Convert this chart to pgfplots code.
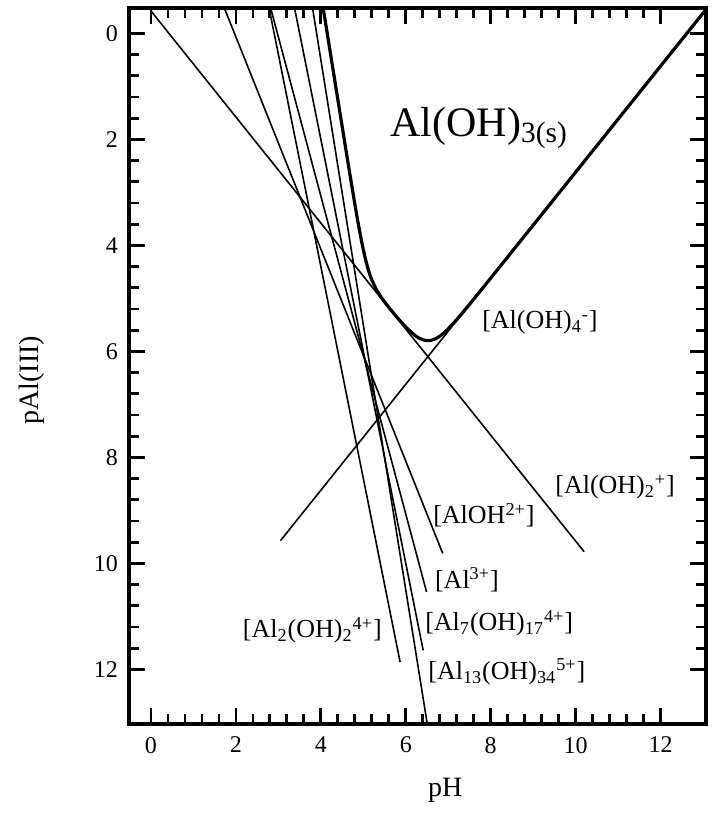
\documentclass[border=0pt]{standalone}
\usepackage{fontspec}
\setmainfont{Liberation Serif}
\usepackage{pgfplots}
\pgfplotsset{compat=1.18}
\newcommand{\ion}[2]{\textsubscript{#1}\textsuperscript{#2}}
\begin{document}
\begin{tikzpicture}
\begin{axis}[
  scale only axis, width=288.5pt, height=358pt,
  xmin=-0.518, xmax=13.07, ymin=-0.477, ymax=13.03, y dir=reverse,
  xtick={0,2,...,12}, ytick={0,2,...,12}, minor tick num=4,
  tick align=inside,
  major tick length=8pt, minor tick length=5pt,
  every tick/.style={line width=1.4pt, black},
  axis line style={line width=2pt},
  tick label style={font=\fontsize{12}{14}\selectfont},
  xticklabel style={yshift=-3pt},
  yticklabel style={xshift=-2pt},
  /pgf/number format/assume math mode=true,
  xlabel={pH}, ylabel={pAl(III)},
  label style={font=\fontsize{14}{16}\selectfont},
  xlabel style={at={(axis description cs:0.548,-0.092)}, anchor=center},
  ylabel style={at={(axis description cs:-0.168,0.48)}, anchor=center},
  clip=true,
]
% [Al(OH)2+]
\addplot[line width=0.8pt] coordinates {(0,-0.42) (10.2,9.78)};
% [Al(OH)4-]
\addplot[line width=0.8pt] coordinates {(3.05,9.57) (13.12,-0.5)};
% [AlOH2+]
\addplot[line width=0.8pt] coordinates {(1.715,-0.5) (6.87,9.81)};
% [Al3+]
\addplot[line width=0.8pt] coordinates {(2.81,-0.5) (6.49,10.54)};
% [Al2(OH)2 4+]
\addplot[line width=0.8pt] coordinates {(2.775,-0.5) (5.866,11.86)};
% [Al7(OH)17 4+]
\addplot[line width=0.8pt] coordinates {(3.375,-0.5) (6.41,11.64)};
% [Al13(OH)34 5+]
\addplot[line width=0.8pt] coordinates {(3.8,-0.5) (6.62,13.6)};
% total solubility
\addplot[line width=1.6pt, line join=round] coordinates {
(4.05,-0.5) (4.1,-0.25) (4.2,0.25) (4.3,0.75) (4.4,1.249) (4.5,1.748)
(4.6,2.245) (4.7,2.737) (4.8,3.219) (4.85,3.452) (4.9,3.676) (4.95,3.888)
(5.0,4.083) (5.05,4.259) (5.1,4.412) (5.15,4.543) (5.2,4.653) (5.3,4.825)
(5.4,4.955) (5.5,5.067) (5.6,5.170) (5.8,5.364) (6.0,5.542) (6.2,5.690)
(6.3,5.745) (6.4,5.782) (6.5,5.798) (6.6,5.792) (6.7,5.763) (6.8,5.714)
(6.9,5.651) (7.0,5.575) (7.2,5.402) (7.5,5.115) (8,4.619) (9,3.62)
(10,2.62) (11,1.62) (12,0.62) (13.1,-0.48)};
\node[font=\fontsize{21}{24}\selectfont] at (axis cs:7.73,1.79) {Al(OH)\textsubscript{3(s)}};
\node[font=\fontsize{13}{15}\selectfont] at (axis cs:9.16,5.46) {[Al(OH)\ion{4}{-}]};
\node[font=\fontsize{13}{15}\selectfont] at (axis cs:10.93,8.56) {[Al(OH)\ion{2}{+}]};
\node[font=\fontsize{13}{15}\selectfont] at (axis cs:7.84,9.09) {[AlOH\textsuperscript{2+}]};
\node[font=\fontsize{13}{15}\selectfont] at (axis cs:7.44,10.31) {[Al\textsuperscript{3+}]};
\node[font=\fontsize{13}{15}\selectfont] at (axis cs:8.2,11.13) {[Al\textsubscript{7}(OH)\ion{17}{4+}]};
\node[font=\fontsize{13}{15}\selectfont] at (axis cs:3.8,11.26) {[Al\textsubscript{2}(OH)\ion{2}{4+}]};
\node[font=\fontsize{13}{15}\selectfont] at (axis cs:8.38,12.05) {[Al\textsubscript{13}(OH)\ion{34}{5+}]};
\end{axis}
\pgfresetboundingbox
\path[use as bounding box] ([shift={(-64.5pt,-45.5pt)}]current axis.south west) rectangle ([shift={(4.5pt,4pt)}]current axis.north east);
\end{tikzpicture}
\end{document}
